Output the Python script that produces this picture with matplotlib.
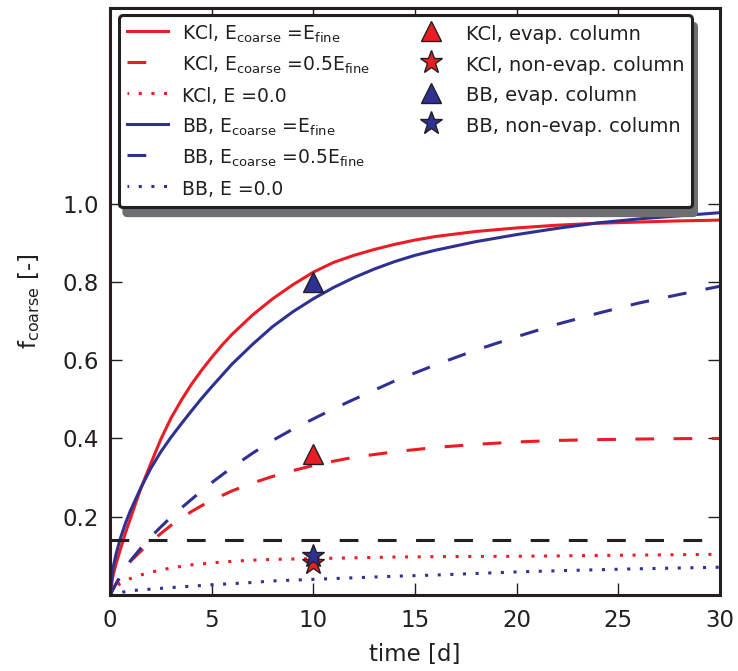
import matplotlib
matplotlib.use("Agg")
import matplotlib.pyplot as plt
from matplotlib.lines import Line2D

plt.rcParams['font.family'] = ['DejaVu Sans']
plt.rcParams['mathtext.default'] = 'regular'
plt.rcParams['lines.scale_dashes'] = False

# ---- data ----
t_full = [0, 0.15, 0.3, 0.5, 0.75, 1, 1.5, 2, 2.5, 3, 3.5, 4, 4.5, 5, 5.5, 6, 7, 8, 9, 10,
          11, 12, 13, 14, 15, 16, 18, 20, 22, 24, 26, 28, 30]
kcl_full = [0, 0.05, 0.08, 0.115, 0.157, 0.195, 0.27, 0.335, 0.398, 0.452, 0.497, 0.538, 0.574,
            0.607, 0.638, 0.666, 0.715, 0.757, 0.793, 0.825, 0.85, 0.868, 0.883, 0.896, 0.907,
            0.916, 0.929, 0.938, 0.945, 0.950, 0.953, 0.956, 0.958]
bb_full = [0, 0.07, 0.105, 0.143, 0.182, 0.215, 0.272, 0.323, 0.366, 0.403, 0.437, 0.47, 0.502,
           0.532, 0.561, 0.59, 0.64, 0.686, 0.724, 0.757, 0.786, 0.811, 0.833, 0.852, 0.868,
           0.881, 0.903, 0.921, 0.937, 0.951, 0.961, 0.969, 0.977]

t_half = [0, 0.25, 0.5, 0.75, 1, 1.5, 2, 2.5, 3, 3.5, 4, 4.5, 5, 6, 7, 8, 9, 10, 11, 12,
          14, 16, 18, 20, 22, 24, 26, 28, 30]
kcl_half = [0, 0.025, 0.048, 0.068, 0.086, 0.111, 0.135, 0.157, 0.178, 0.196, 0.213, 0.228,
            0.242, 0.266, 0.286, 0.303, 0.318, 0.331, 0.342, 0.352, 0.366, 0.377, 0.385,
            0.391, 0.395, 0.397, 0.3985, 0.3995, 0.400]
bb_half = [0, 0.024, 0.046, 0.067, 0.087, 0.119, 0.148, 0.174, 0.199, 0.222, 0.244, 0.266,
           0.287, 0.326, 0.362, 0.395, 0.424, 0.45, 0.476, 0.500, 0.547, 0.588, 0.626, 0.66,
           0.692, 0.72, 0.746, 0.768, 0.789]

t_zero = [0, 0.5, 1, 1.5, 2, 2.5, 3, 4, 5, 6, 7, 8, 10, 12, 14, 16, 18, 20, 22, 24, 26, 28, 30]
kcl_zero = [0, 0.030, 0.042, 0.051, 0.058, 0.064, 0.069, 0.077, 0.082, 0.086, 0.089, 0.091, 0.093,
            0.095, 0.097, 0.098, 0.0985, 0.099, 0.100, 0.101, 0.102, 0.103, 0.104]
bb_zero = [0, 0.006, 0.011, 0.013, 0.015, 0.017, 0.019, 0.0225, 0.026, 0.029, 0.032, 0.036, 0.040,
           0.044, 0.048, 0.051, 0.055, 0.059, 0.062, 0.0645, 0.067, 0.069, 0.071]

threshold = 0.14

obs_time = 10
kcl_evap = 0.36
kcl_nonevap = 0.083
bb_evap = 0.80
bb_nonevap = 0.100

xticks = [0, 5, 10, 15, 20, 25, 30]
yticks = [0.2, 0.4, 0.6, 0.8, 1.0]

# ---- style ----
RED = '#ec1c24'
BLUE = '#2e3192'
DARK = '#231f20'
LW = 2.2
DASH = (0, (13.5, 14))
DOT = (0, (2.2, 6.9))

fig = plt.figure(figsize=(7.38, 6.71), dpi=100)
ax = fig.add_axes([110 / 738, 76 / 671, 610 / 738, 587 / 671])

ax.plot(t_full, kcl_full, color=RED, lw=LW, label='KCl, $E_{coarse}$ =$E_{fine}$')
ax.plot(t_half, kcl_half, color=RED, lw=LW, linestyle=DASH, label='KCl, $E_{coarse}$ =0.5$E_{fine}$')
ax.plot(t_zero, kcl_zero, color=RED, lw=LW, linestyle=DOT, label='KCl, E =0.0')
ax.plot(t_full, bb_full, color=BLUE, lw=LW, label='BB, $E_{coarse}$ =$E_{fine}$')
ax.plot(t_half, bb_half, color=BLUE, lw=LW, linestyle=DASH, label='BB, $E_{coarse}$ =0.5$E_{fine}$')
ax.plot(t_zero, bb_zero, color=BLUE, lw=LW, linestyle=DOT, label='BB, E =0.0')
ax.axhline(threshold, color=DARK, lw=LW, linestyle=DASH)

mk = dict(linestyle='none', markeredgecolor=DARK, markeredgewidth=1.0, zorder=5)
ax.plot([obs_time], [kcl_evap], marker='^', markersize=14.5, color=RED, label='KCl, evap. column', **mk)
ax.plot([obs_time], [kcl_nonevap], marker='*', markersize=17, color=RED, label='KCl, non-evap. column', **mk)
ax.plot([obs_time], [bb_evap], marker='^', markersize=14.5, color=BLUE, label='BB, evap. column', **mk)
ax.plot([obs_time], [bb_nonevap], marker='*', markersize=17, color=BLUE, label='BB, non-evap. column', **mk)

ax.set_xlim(0, 30)
ax.set_ylim(0, 1.5)
ax.set_xticks(xticks)
ax.set_yticks(yticks)
ax.set_yticklabels([f'{v:.1f}' for v in yticks])
ax.tick_params(direction='in', length=8.5, width=1.0, top=True, right=True,
               labelsize=16.5, colors=DARK)
ax.tick_params(axis='y', pad=8)
ax.tick_params(axis='x', pad=10)
for s in ax.spines.values():
    s.set_linewidth(LW)
    s.set_color(DARK)

ax.set_xlabel('time [d]', fontsize=16.5, color=DARK, labelpad=8)
ax.set_ylabel('$f_{coarse}$ [-]', fontsize=16.5, color=DARK, labelpad=15)

handles, labels = ax.get_legend_handles_labels()
blank = Line2D([], [], linestyle='none')
handles = handles + [blank, blank]
labels = labels + ['', '']
leg = ax.legend(handles, labels, ncol=2, loc='upper left',
                bbox_to_anchor=(9 / 610, 580 / 587), borderaxespad=0,
                fontsize=13.5, handlelength=2.2, handletextpad=0.75,
                handleheight=1.45, labelspacing=0.45,
                columnspacing=2.15, borderpad=0.4,
                fancybox=True, numpoints=1,
                shadow={'ox': 3.5, 'oy': -6, 'color': '#6d6e71', 'alpha': 1})
leg.get_frame().set_linewidth(LW)
leg.get_frame().set_edgecolor(DARK)
texts = leg.get_texts()
for i, txt in enumerate(texts):
    txt.set_color(DARK)
    if i >= 6:
        txt.set_fontsize(14)
leg_lines = leg.get_lines()
for i in (1, 4):
    leg_lines[i].set_linestyle((0, (13.5, 40)))
for i in (2, 5):
    leg_lines[i].set_linestyle((1.0, (2.2, 6.9)))

fig.savefig('out.png', dpi=100)
